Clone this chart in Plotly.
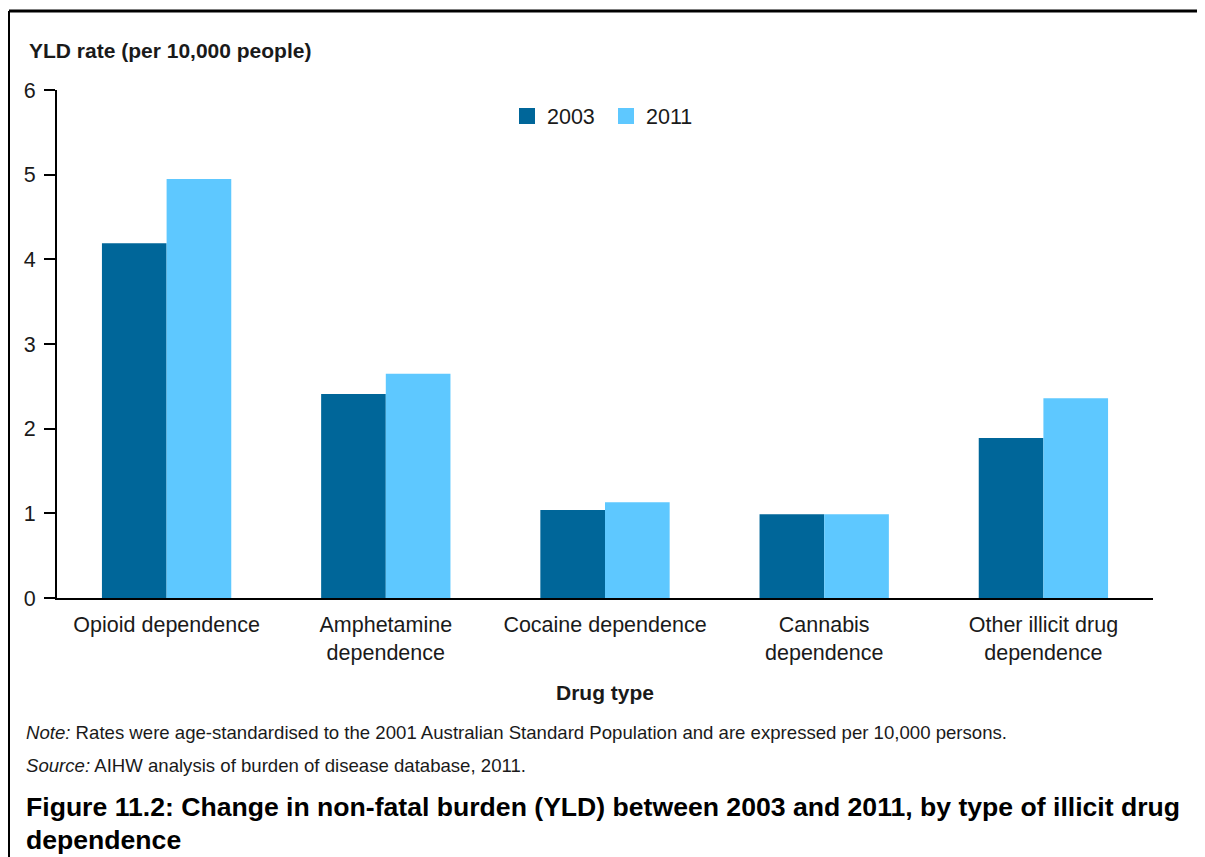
import plotly.graph_objs as go

# 数据：按药物类型的YLD率（每万人）
categories = ['Opioid dependence', 'Amphetamine<br>dependence', 'Cocaine dependence',
              'Cannabis<br>dependence', 'Other illicit drug<br>dependence']
rate_2003 = [4.19, 2.41, 1.04, 0.99, 1.89]
rate_2011 = [4.95, 2.65, 1.13, 0.99, 2.36]
y_ticks = [0, 1, 2, 3, 4, 5, 6]
series_names = ['2003', '2011']
series_colors = ['#006699', '#5EC8FF']

FONT = 'Liberation Sans, Arial, sans-serif'

# 页面 body 默认有 8px 边距，图整体缩小并平移
OFF = 8
W, H = 1205 - OFF, 857 - OFF
L, R, T, B = 57 - OFF, 52, 90 - OFF, 259
PW, PH = W - L - R, H - T - B


def px(x):
    # 参考图像素 x -> paper 坐标
    return (x - OFF - L) / PW


def py(y):
    # 参考图像素 y -> paper 坐标
    return (H - B - (y - OFF)) / PH


def bar_chart():
    traces = []
    for name, vals, col in zip(series_names, [rate_2003, rate_2011], series_colors):
        traces.append(go.Bar(x=categories, y=vals, name=name, showlegend=False,
                             marker=dict(color=col, line=dict(width=0))))
    # 图例用方块标记
    for name, col in zip(series_names, series_colors):
        traces.append(go.Scatter(x=[None], y=[None], mode='markers', name=name,
                                 marker=dict(symbol='square', size=16, color=col)))

    layout = go.Layout(
        width=W, height=H,
        margin=dict(l=L, r=R, t=T, b=B),
        paper_bgcolor='white', plot_bgcolor='white',
        font=dict(family=FONT, color='#1a1a1a', size=21.5),
        barmode='group', bargap=0.41, bargroupgap=0,
        showlegend=True,
        legend=dict(orientation='h', x=px(507), xanchor='left', y=py(116), yanchor='middle',
                    font=dict(size=21.5), itemwidth=30, tracegroupgap=0, entrywidth=54),
        xaxis=dict(showline=True, linecolor='black', linewidth=2, ticks='',
                   showgrid=False, zeroline=False, tickfont=dict(size=21.5),
                   ticklabelstandoff=6),
        yaxis=dict(range=[0, 6], tickvals=y_ticks, showline=True, linecolor='black',
                   linewidth=2, ticks='outside', ticklen=11, tickwidth=1.5, tickcolor='black',
                   showgrid=False, zeroline=False, tickfont=dict(size=21.5),
                   ticklabelstandoff=4),
        shapes=[
            dict(type='line', xref='paper', yref='paper', x0=px(9), x1=px(1220),
                 y0=py(11), y1=py(11), line=dict(color='black', width=3)),
            dict(type='line', xref='paper', yref='paper', x0=px(9), x1=px(9),
                 y0=py(11), y1=py(870), line=dict(color='black', width=2)),
        ],
        annotations=[
            dict(text='<b>YLD rate (per 10,000 people)</b>', xref='paper', yref='paper',
                 x=px(27), y=py(51), xanchor='left', yanchor='middle', showarrow=False,
                 font=dict(size=21)),
            dict(text='<b>Drug type</b>', xref='paper', yref='paper',
                 x=px(605), y=py(692), xanchor='center', yanchor='middle', showarrow=False,
                 font=dict(size=21)),
            dict(text='<i>Note:</i> Rates were age-standardised to the 2001 Australian Standard '
                      'Population and are expressed per 10,000 persons.',
                 xref='paper', yref='paper', x=px(24), y=py(732), xanchor='left',
                 yanchor='middle', showarrow=False, font=dict(size=18.6)),
            dict(text='<i>Source:</i> AIHW analysis of burden of disease database, 2011.',
                 xref='paper', yref='paper', x=px(24), y=py(765), xanchor='left',
                 yanchor='middle', showarrow=False, font=dict(size=18.6)),
            dict(text='<b>Figure 11.2: Change in non-fatal burden (YLD) between 2003 and 2011, '
                      'by type of illicit drug</b>',
                 xref='paper', yref='paper', x=px(24), y=py(807), xanchor='left',
                 yanchor='middle', showarrow=False, font=dict(size=26.6, color='black')),
            dict(text='<b>dependence</b>',
                 xref='paper', yref='paper', x=px(24), y=py(840), xanchor='left',
                 yanchor='middle', showarrow=False, font=dict(size=26.6, color='black')),
        ],
    )

    figure = go.Figure(data=traces, layout=layout)
    figure.write_html('out.html')


if __name__ == '__main__':
    bar_chart()
